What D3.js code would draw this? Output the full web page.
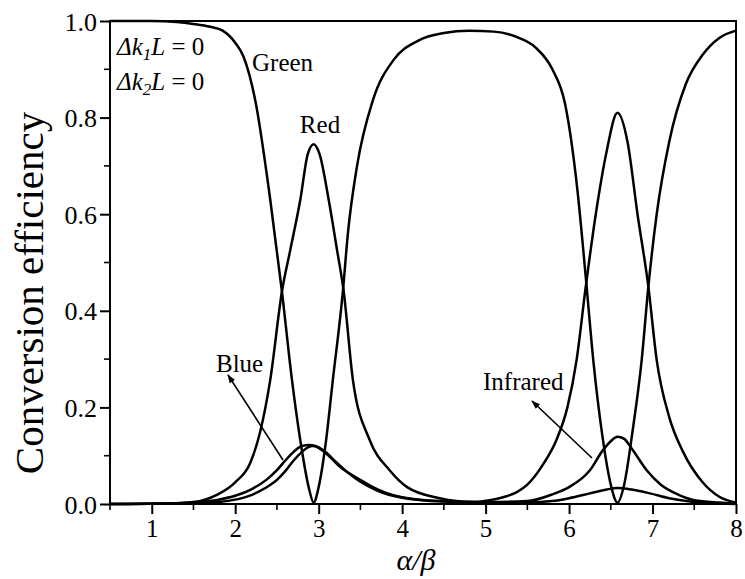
<!DOCTYPE html>
<html><head><meta charset="utf-8">
<script src="https://cdn.jsdelivr.net/npm/d3@7"></script>
<style>body{margin:0;background:#fff}svg{display:block}text{font-family:"Liberation Serif","Times New Roman",serif;fill:#000}</style>
</head><body><svg id="c" width="745" height="579"></svg>
<script>
// ---- data ----
const xTicks = [1,2,3,4,5,6,7,8];
const yTicks = [0,0.2,0.4,0.6,0.8,1.0];

const greenX = [0.5,1.0,1.3,1.5,1.7,1.85,2.0,2.1,2.24,2.42,2.56,2.68,2.8,2.88,2.94,3.0,3.08,3.17,3.29,3.35,3.46,3.65,3.9,4.2,4.5,4.8,5.1,5.4,5.6,5.8,5.95,6.1,6.2,6.29,6.4,6.5,6.58,6.66,6.76,6.87,6.95,7.05,7.2,7.4,7.6,7.8,8.0];
const greenY = [1.0,1.0,0.998,0.994,0.988,0.98,0.955,0.926,0.836,0.63,0.44,0.257,0.11,0.035,0.003,0.035,0.12,0.257,0.44,0.56,0.70,0.836,0.92,0.96,0.975,0.98,0.978,0.965,0.945,0.9,0.83,0.65,0.47,0.298,0.14,0.04,0.003,0.04,0.15,0.298,0.45,0.6,0.75,0.87,0.93,0.965,0.98];

const redX = [0.5,1.2,1.5,1.78,2.0,2.18,2.3,2.42,2.56,2.66,2.78,2.87,2.94,3.01,3.12,3.22,3.3,3.41,3.61,3.85,4.06,4.45,4.85,5.05,5.25,5.38,5.5,5.7,5.85,5.98,6.09,6.2,6.32,6.45,6.58,6.7,6.82,6.95,7.05,7.2,7.36,7.6,7.8,8.0];
const redY = [0,0.001,0.004,0.019,0.045,0.085,0.15,0.257,0.44,0.526,0.63,0.725,0.745,0.725,0.63,0.526,0.44,0.257,0.133,0.07,0.035,0.012,0.004,0.008,0.016,0.025,0.04,0.085,0.133,0.2,0.298,0.45,0.6,0.73,0.81,0.75,0.6,0.45,0.298,0.18,0.11,0.045,0.015,0.003];

const infraredX = [0.5,1.2,1.5,1.8,2.0,2.2,2.38,2.5,2.6,2.7,2.8,2.88,2.96,3.05,3.15,3.25,3.4,3.53,3.65,3.97,4.45,5.0,5.5,5.8,6.0,6.25,6.4,6.5,6.58,6.66,6.75,6.93,7.1,7.3,7.5,7.8,8.0];
const infraredY = [0,0.001,0.003,0.009,0.017,0.031,0.051,0.07,0.09,0.108,0.12,0.122,0.12,0.11,0.095,0.078,0.06,0.047,0.035,0.015,0.006,0.004,0.006,0.02,0.035,0.07,0.11,0.13,0.139,0.135,0.115,0.07,0.04,0.02,0.008,0.003,0.001];

const blueX = [0.5,1.5,1.8,2.0,2.2,2.35,2.5,2.6,2.7,2.8,2.87,2.93,3.0,3.1,3.2,3.35,3.5,3.7,4.0,4.5,5.0,5.5,5.8,6.0,6.25,6.45,6.58,6.75,6.97,7.2,7.45,7.8,8.0];
const blueY = [0,0.001,0.004,0.009,0.019,0.032,0.05,0.068,0.09,0.108,0.117,0.12,0.117,0.105,0.088,0.065,0.046,0.028,0.013,0.005,0.003,0.003,0.006,0.012,0.022,0.03,0.033,0.03,0.022,0.012,0.005,0.001,0];

// ---- layout ----
const FONT = '"Liberation Serif","Times New Roman",serif';
const svg = d3.select("#c");
const L = 110, R = 736, T = 21, B = 504;
const x = d3.scaleLinear().domain([0.5, 8]).range([L, R]);
const y = d3.scaleLinear().domain([0, 1]).range([B, T]);

const line = d3.line().x(d => x(d[0])).y(d => y(d[1])).curve(d3.curveMonotoneX);
const series = [[greenX, greenY], [redX, redY], [infraredX, infraredY], [blueX, blueY]];
const g = svg.append("g");
series.forEach(([xs, ys]) => {
  g.append("path").datum(xs.map((v, i) => [v, ys[i]]))
    .attr("d", line).attr("fill", "none").attr("stroke", "#000")
    .attr("stroke-width", 2.5).attr("stroke-linejoin", "round");
});

// frame
svg.append("rect").attr("x", L).attr("y", T).attr("width", R - L).attr("height", B - T)
  .attr("fill", "none").attr("stroke", "#000").attr("stroke-width", 2);

// axes
const xAxis = d3.axisBottom(x).tickValues(xTicks).tickSize(10).tickFormat(d3.format("d"));
const gx = svg.append("g").attr("transform", `translate(0,${B})`).call(xAxis)
  .attr("font-family", FONT);
gx.select(".domain").remove();
gx.selectAll("line").attr("stroke-width", 2);
gx.selectAll("text").attr("font-family", FONT).attr("font-size", 25).attr("dy", "0.95em").attr("y", 9);
const xMinor = d3.range(0.5, 8.01, 0.5).filter(v => !xTicks.includes(v));
svg.append("g").selectAll("line").data(xMinor).join("line")
  .attr("x1", d => x(d)).attr("x2", d => x(d)).attr("y1", B).attr("y2", B + 6)
  .attr("stroke", "#000").attr("stroke-width", 1.6);

const yAxis = d3.axisLeft(y).tickValues(yTicks).tickSize(10).tickFormat(d3.format(".1f"));
const gy = svg.append("g").attr("transform", `translate(${L},0)`).call(yAxis)
  .attr("font-family", FONT);
gy.select(".domain").remove();
gy.selectAll("line").attr("stroke-width", 2);
gy.selectAll("text").attr("font-family", FONT).attr("font-size", 26).attr("x", -13).attr("dy", "0.35em");
const yMinor = [0.1, 0.3, 0.5, 0.7, 0.9];
svg.append("g").selectAll("line").data(yMinor).join("line")
  .attr("x1", L - 6).attr("x2", L).attr("y1", d => y(d)).attr("y2", d => y(d))
  .attr("stroke", "#000").attr("stroke-width", 1.6);

// axis titles
svg.append("text").attr("x", 416).attr("y", 570).attr("text-anchor", "middle")
  .attr("font-size", 30).attr("font-style", "italic").text("α/β");
svg.append("text").attr("transform", "translate(43,293) rotate(-90)").attr("text-anchor", "middle")
  .attr("font-size", 41).text("Conversion efficiency");

// annotations
function dk(yb, sub) {
  const t = svg.append("text").attr("x", 117).attr("y", yb).attr("font-size", 25);
  t.append("tspan").attr("font-style", "italic").text("Δk");
  t.append("tspan").attr("font-style", "italic").attr("font-size", 17).attr("dy", 5).text(sub);
  t.append("tspan").attr("font-style", "italic").attr("dy", -5).text("L");
  t.append("tspan").text(" = 0");
}
dk(55, "1");
dk(90, "2");
svg.append("text").attr("x", 252).attr("y", 71).attr("font-size", 25).text("Green");
svg.append("text").attr("x", 320).attr("y", 133).attr("font-size", 25).attr("text-anchor", "middle").text("Red");
svg.append("text").attr("x", 216).attr("y", 372).attr("font-size", 25).text("Blue");
svg.append("text").attr("x", 483).attr("y", 390).attr("font-size", 25).text("Infrared");

// arrows
svg.append("defs").append("marker").attr("id", "ah").attr("viewBox", "0 0 10 10")
  .attr("refX", 9).attr("refY", 5).attr("markerWidth", 9).attr("markerHeight", 9)
  .attr("orient", "auto").attr("markerUnits", "userSpaceOnUse")
  .append("path").attr("d", "M0,1.5 L10,5 L0,8.5 Z").attr("fill", "#000");
const arrows = [[283, 460, 228, 375], [592, 458, 532, 401]];
svg.append("g").selectAll("line").data(arrows).join("line")
  .attr("x1", d => d[0]).attr("y1", d => d[1]).attr("x2", d => d[2]).attr("y2", d => d[3])
  .attr("stroke", "#000").attr("stroke-width", 1.6).attr("marker-end", "url(#ah)");
</script></body></html>
